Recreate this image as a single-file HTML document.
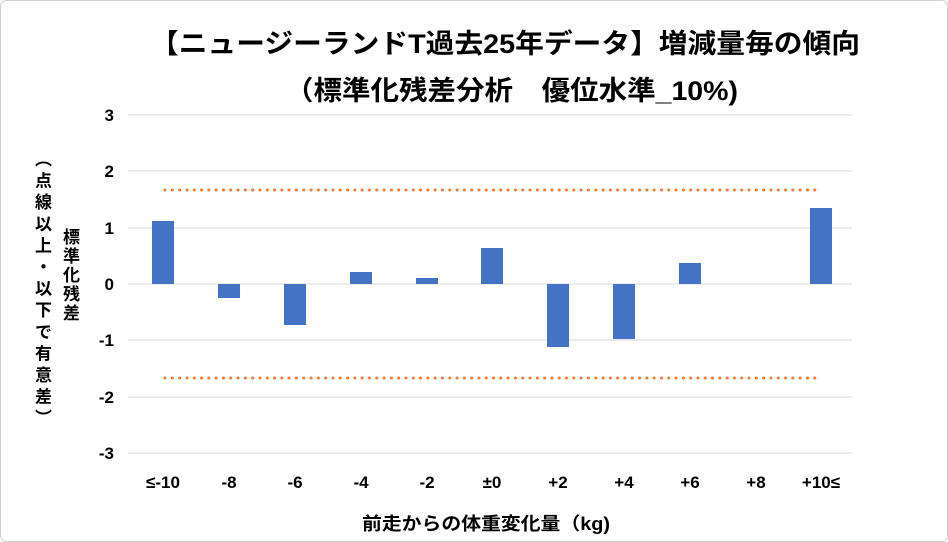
<!DOCTYPE html>
<html><head><meta charset="utf-8"><style>
body{margin:0;background:#fff}
.w{position:relative;width:948px;height:542px;font-family:"Liberation Sans","Noto Sans CJK JP",sans-serif}
.v{position:absolute;writing-mode:vertical-rl;font-weight:bold;font-size:17px;color:#000;line-height:1;letter-spacing:4px}
</style></head><body><div class="w">
<svg width="948" height="542" style="position:absolute;left:0;top:0" font-family="Liberation Sans, Noto Sans CJK JP, sans-serif">
<rect x="0.5" y="0.5" width="947" height="541" rx="6" fill="#fff" stroke="#d0d0d0"/>
<text x="150" y="53" font-size="27" font-weight="bold" textLength="710" lengthAdjust="spacingAndGlyphs">【ニュージーランドT過去25年データ】増減量毎の傾向</text>
<text x="285" y="100" font-size="27" font-weight="bold" textLength="453" lengthAdjust="spacingAndGlyphs">（標準化残差分析　優位水準_10%)</text>
<g stroke="#d9d9d9" stroke-width="1">
<line x1="128" x2="852" y1="115" y2="115"/><line x1="128" x2="852" y1="171" y2="171"/><line x1="128" x2="852" y1="228" y2="228"/><line x1="128" x2="852" y1="284" y2="284"/><line x1="128" x2="852" y1="340" y2="340"/><line x1="128" x2="852" y1="397" y2="397"/><line x1="128" x2="852" y1="453" y2="453"/>
</g>
<g font-size="17" font-weight="bold" text-anchor="end">
<text x="114" y="121">3</text><text x="114" y="177">2</text><text x="114" y="234">1</text><text x="114" y="290">0</text><text x="114" y="346">-1</text><text x="114" y="403">-2</text><text x="114" y="459">-3</text>
</g>
<g fill="#4472c4">
<rect x="152" y="221" width="22" height="63"/>
<rect x="218" y="284" width="22" height="14"/>
<rect x="284" y="284" width="22" height="41"/>
<rect x="350" y="272" width="22" height="12"/>
<rect x="416" y="278" width="22" height="6"/>
<rect x="481" y="248" width="22" height="36"/>
<rect x="547" y="284" width="22" height="63"/>
<rect x="613" y="284" width="22" height="55"/>
<rect x="679" y="263" width="22" height="21"/>
<rect x="810" y="208" width="22" height="76"/>
</g>
<g stroke="#ed7d31" stroke-width="3" stroke-dasharray="0.1 7.2" stroke-linecap="round">
<line x1="165" x2="820" y1="190" y2="190"/><line x1="165" x2="820" y1="378" y2="378"/>
</g>
<g font-size="17" font-weight="bold" text-anchor="middle">
<text x="163" y="488">≤-10</text><text x="229" y="488">-8</text><text x="295" y="488">-6</text><text x="361" y="488">-4</text><text x="427" y="488">-2</text><text x="492" y="488">±0</text><text x="558" y="488">+2</text><text x="624" y="488">+4</text><text x="690" y="488">+6</text><text x="756" y="488">+8</text><text x="821" y="488">+10≤</text>
</g>
<text x="362" y="530" font-size="18" font-weight="bold" textLength="248" lengthAdjust="spacingAndGlyphs">前走からの体重変化量（kg)</text>
</svg>
<div class="v" style="left:61px;top:228px;letter-spacing:2px">標準化残差</div>
<div class="v" style="left:33px;top:150px;letter-spacing:4.6px">（点線以上・以下で有意差）</div>
</div></body></html>
